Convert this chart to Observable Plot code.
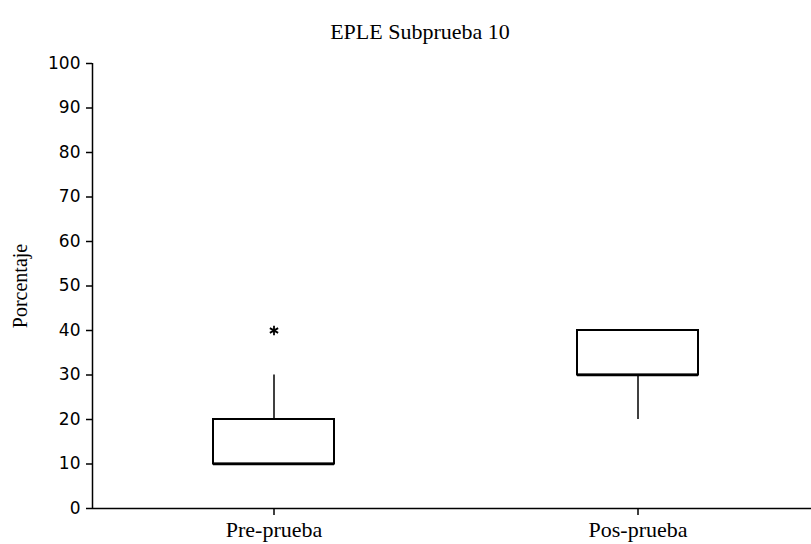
<!DOCTYPE html>
<html>
<head>
<meta charset="utf-8">
<script src="https://cdn.jsdelivr.net/npm/d3@7"></script>
<script src="https://cdn.jsdelivr.net/npm/@observablehq/plot@0.6"></script>
<style>
  body { margin: 0; background: #fff; }
  #chart svg { display: block; }
</style>
</head>
<body>
<div id="chart"></div>
<script>
const titleText = "EPLE Subprueba 10";
const yLabel = "Porcentaje";
const categories = ["Pre-prueba", "Pos-prueba"];
const q1 = [10, 30];
const median = [10, 30];
const q3 = [20, 40];
const whiskerLow = [10, 20];
const whiskerHigh = [30, 40];
const outlierCategory = ["Pre-prueba"];
const outlierValue = [40];
const yTicks = [0, 10, 20, 30, 40, 50, 60, 70, 80, 90, 100];

const boxes = categories.map((c, i) => ({
  cat: c, q1: q1[i], med: median[i], q3: q3[i], lo: whiskerLow[i], hi: whiskerHigh[i]
}));
const outliers = outlierCategory.map((c, i) => ({cat: c, v: outlierValue[i]}));

const serif = "'Liberation Serif', 'Times New Roman', serif";
const sans = "'DejaVu Sans', Tahoma, sans-serif";
const W = 811, ML = 92, MR = 0;

const chart = Plot.plot({
  width: W,
  height: 544,
  marginTop: 63,
  marginBottom: 36,
  marginLeft: ML,
  marginRight: MR,
  style: {background: "#fff", color: "#000"},
  x: {type: "band", domain: categories, range: [92, 820], paddingInner: 0.667, paddingOuter: 0.3335, axis: null},
  y: {domain: [0, 100], axis: null},
  marks: [
    Plot.axisY({ticks: yTicks, tickSize: 6, tickPadding: 6, fontSize: 17, fontFamily: sans, label: null, strokeWidth: 1.5}),
    Plot.axisX({tickSize: 7, tickPadding: 6, fontSize: 22, fontFamily: serif, label: null, strokeWidth: 1.5}),
    // y axis line: a rule spanning the frame, shifted from the frame centre to its left edge
    Plot.ruleX([0], {x: null, dx: -(W - ML - MR) / 2, stroke: "#000", strokeWidth: 1.5}),
    Plot.ruleX(boxes, {x: "cat", y1: "q3", y2: "hi", stroke: "#000", strokeWidth: 1.5}),
    Plot.ruleX(boxes, {x: "cat", y1: "lo", y2: "q1", stroke: "#000", strokeWidth: 1.5}),
    Plot.barY(boxes, {x: "cat", y1: "q1", y2: "q3", fill: "#fff", stroke: "#000", strokeWidth: 2}),
    Plot.tickY(boxes, {x: "cat", y: "med", stroke: "#000", strokeWidth: 2.5}),
    Plot.dot(outliers, {x: "cat", y: "v", symbol: "asterisk", r: 4.5, stroke: "#000", strokeWidth: 1.8}),
    Plot.ruleY([0], {stroke: "#000", strokeWidth: 1.5}),
    Plot.text([titleText], {frameAnchor: "top", textAnchor: "middle", dx: -32, dy: -40, fontSize: 22, fontFamily: serif, fill: "#000"}),
    Plot.text([yLabel], {frameAnchor: "left", textAnchor: "middle", lineAnchor: "middle", dx: -72, rotate: -90, fontSize: 20, fontFamily: serif, fill: "#000"})
  ]
});
document.getElementById("chart").append(chart);
</script>
</body>
</html>
